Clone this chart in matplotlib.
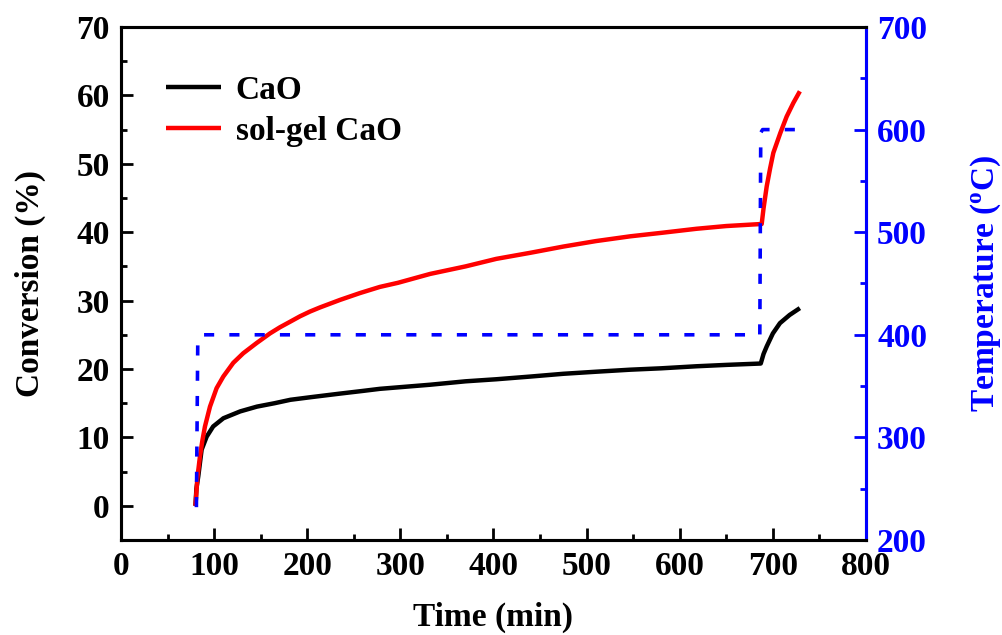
import matplotlib.pyplot as plt
from matplotlib.ticker import MultipleLocator

plt.rcParams["font.family"] = "Liberation Serif"
plt.rcParams["font.weight"] = "bold"
plt.rcParams["mathtext.fontset"] = "custom"
plt.rcParams["mathtext.rm"] = "Liberation Serif:bold"
plt.rcParams["mathtext.it"] = "Liberation Serif:bold"

# conversion data
t_cao = [80, 81, 83, 86.6, 92, 99, 110, 128, 146, 165, 182, 205, 235, 260,
         278, 305, 332, 370, 403, 440, 475, 510, 547, 580, 618, 650, 687,
         690, 693.4, 700, 707.6, 718, 729]
x_cao = [0, 2.5, 4.3, 8.2, 10.1, 11.6, 12.8, 13.8, 14.5, 15.0, 15.5, 15.9,
         16.4, 16.8, 17.1, 17.4, 17.7, 18.2, 18.5, 18.9, 19.3, 19.6, 19.9,
         20.1, 20.4, 20.6, 20.8, 22.2, 23.3, 25.2, 26.7, 27.9, 28.9]

t_sol = [80, 82, 84.8, 87.5, 90.2, 95.6, 102.7, 109.9, 120.6, 131.3, 145.7,
         160, 170.7, 181.5, 192.2, 203, 213.7, 235.2, 256.6, 278, 297.4, 332,
         370, 403, 440, 475, 510, 547, 580, 618, 650, 688, 690, 693.4, 697,
         700.5, 708, 714.8, 722, 729]
x_sol = [0, 4.0, 7.2, 9.6, 11.6, 14.5, 17.2, 18.9, 20.9, 22.3, 23.8, 25.2,
         26.1, 26.9, 27.7, 28.4, 29.0, 30.1, 31.1, 32.0, 32.6, 33.9, 35.0,
         36.1, 37.0, 37.9, 38.7, 39.4, 39.9, 40.5, 40.9, 41.2, 43.5, 46.7,
         49.3, 51.6, 54.5, 56.9, 58.9, 60.6]

# temperature programme
t_temp = [81, 82.5, 85, 686, 687, 689, 725]
temp = [232, 396, 400, 400, 597, 600, 600]

fig = plt.figure(figsize=(10.03, 6.35), dpi=100)
ax = fig.add_axes([0.1206, 0.1496, 0.7428, 0.8079])
ax2 = ax.twinx()

ax.plot(t_cao, x_cao, color="black", lw=3.2, label="CaO",
        solid_capstyle="butt")
ax.plot(t_sol, x_sol, color="red", lw=3.2, label="sol-gel CaO",
        solid_capstyle="butt")
ax2.plot(t_temp, temp, color="blue", lw=2.6, dashes=(2.8, 4.2))

ax.set_xlim(0, 800)
ax.set_ylim(-5, 70)
ax2.set_ylim(200, 700)

ax.xaxis.set_major_locator(MultipleLocator(100))
ax.xaxis.set_minor_locator(MultipleLocator(50))
ax.yaxis.set_major_locator(MultipleLocator(10))
ax.yaxis.set_minor_locator(MultipleLocator(5))
ax2.yaxis.set_major_locator(MultipleLocator(100))
ax2.yaxis.set_minor_locator(MultipleLocator(50))

for a in (ax, ax2):
    for s in a.spines.values():
        s.set_linewidth(2.2)
ax.tick_params(which="both", direction="in", width=2, labelsize=24, pad=8,
               top=False, right=False)
ax.tick_params(which="major", length=8.5)
ax.tick_params(which="minor", length=4.5)
ax2.tick_params(which="both", direction="in", width=2, labelsize=24, pad=8,
                colors="blue")
ax2.tick_params(which="major", length=8.5)
ax2.tick_params(which="minor", length=4.5)
ax2.spines["right"].set_color("blue")

ax.set_xlabel("Time (min)", fontsize=24, fontweight="bold", labelpad=14)
ax.set_ylabel("Conversion (%)", fontsize=24, fontweight="bold", labelpad=22)
ax2.set_ylabel("Temperature ($^{\\mathrm{o}}$C)", fontsize=24,
               fontweight="bold", color="blue", labelpad=30)

ax.legend(loc="upper left", bbox_to_anchor=(0.02, 0.965), frameon=False,
          fontsize=24, handlelength=1.65, handletextpad=0.45,
          labelspacing=0.3)

fig.savefig("out.png", dpi=100)
